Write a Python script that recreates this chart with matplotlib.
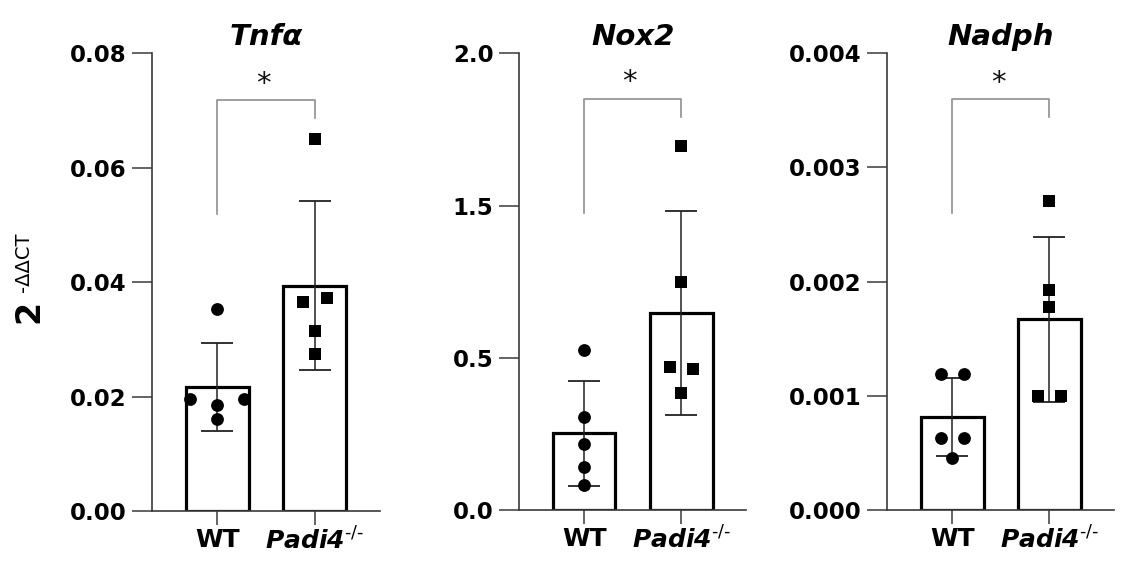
import matplotlib
matplotlib.use("Agg")
import matplotlib.pyplot as plt

plt.rcParams["font.family"] = ["DejaVu Sans"]
plt.rcParams["mathtext.fontset"] = "custom"
plt.rcParams["mathtext.rm"] = "DejaVu Sans:italic:bold"
plt.rcParams["mathtext.sf"] = "DejaVu Sans"
plt.rcParams["mathtext.bf"] = "DejaVu Sans:bold"

groups = ["WT", "$\\mathrm{Padi4}^{\\mathsf{\u2010/\u2010}}$"]
titles = ["Tnf\u03b1", "Nox2", "Nadph"]

# Tnfa
tnfa_wt = [0.0353, 0.0195, 0.0195, 0.0185, 0.0160]
tnfa_ko = [0.0650, 0.0365, 0.0372, 0.0315, 0.0274]
tnfa_mean = [0.0216, 0.0394]
tnfa_sd = [0.0077, 0.0148]
tnfa_ticks = [0.00, 0.02, 0.04, 0.06, 0.08]
tnfa_ticklabels = ["0.00", "0.02", "0.04", "0.06", "0.08"]
tnfa_bracket = [0.0519, 0.0718, 0.0687, 0.0753]

# Nox2 (axis as printed: equally spaced ticks labelled 0.0, 0.5, 1.5, 2.0)
nox2_wt = [0.524, 0.306, 0.217, 0.142, 0.082]
nox2_ko = [1.196, 0.748, 0.469, 0.462, 0.383]
nox2_mean = [0.252, 0.648]
nox2_sd = [0.173, 0.335]
nox2_ticks = [0.0, 0.5, 1.0, 1.5]
nox2_ticklabels = ["0.0", "0.5", "1.5", "2.0"]
nox2_bracket = [0.974, 1.349, 1.291, 1.419]

# Nadph
nadph_wt = [0.00119, 0.00119, 0.000633, 0.000633, 0.000458]
nadph_ko = [0.00271, 0.00193, 0.00178, 0.000998, 0.000998]
nadph_mean = [0.000817, 0.00167]
nadph_sd = [0.000340, 0.000722]
nadph_ticks = [0.000, 0.001, 0.002, 0.003, 0.004]
nadph_ticklabels = ["0.000", "0.001", "0.002", "0.003", "0.004"]
nadph_bracket = [0.002598, 0.003597, 0.003439, 0.00378]

# horizontal spread of the dots (layout only)
tnfa_spread = ([0, -0.275, 0.275, 0, 0], [0, -0.12, 0.12, 0, 0])
nox2_spread = ([0, 0, 0, 0, 0], [0, 0, -0.12, 0.12, 0])
nadph_spread = ([-0.12, 0.12, -0.12, 0.12, 0], [0, 0, 0, -0.12, 0.12])

AXIS_COLOR = "#3a3a3a"


def draw_panel(ax, title, wt, ko, mean, sd, ticks, ticklabels, bracket, spread, ymax):
    xs = [0, 1]
    ax.bar(xs, mean, width=0.645, color="white", edgecolor="black", linewidth=2.3, zorder=1)
    ax.errorbar(xs, mean, yerr=sd, fmt="none", ecolor="#222222", elinewidth=1.1,
                capsize=11.5, capthick=1.3, zorder=2)

    ax.scatter([0 + d for d in spread[0]], wt, marker="o", s=85, color="black", zorder=3, linewidths=0)
    ax.scatter([1 + d for d in spread[1]], ko, marker="s", s=64, color="black", zorder=3, linewidths=0)

    left_y, top_y, right_y, star_y = bracket
    ax.plot([0, 0, 1, 1], [left_y, top_y, top_y, right_y], color="#8f8f8f", lw=1.2,
            zorder=2, clip_on=False)
    # the asterisk glyph sits high in its box, so nudge it down a little
    ax.annotate("*", (0.47, star_y), xytext=(0, -3), textcoords="offset points",
                ha="center", va="center", fontsize=21, color="#111111")

    ax.set_xlim(-0.67, 1.667)
    ax.set_ylim(0, ymax)
    ax.set_xticks(xs)
    ax.set_xticklabels(groups, fontsize=18, fontweight="bold")
    ax.set_yticks(ticks)
    ax.set_yticklabels(ticklabels, fontsize=16.5, fontweight="bold")

    ax.spines["top"].set_visible(False)
    ax.spines["right"].set_visible(False)
    for side in ["left", "bottom"]:
        ax.spines[side].set_color(AXIS_COLOR)
        ax.spines[side].set_linewidth(1.2)
    ax.tick_params(axis="y", length=14.4, width=1.1, pad=4, color=AXIS_COLOR)
    ax.tick_params(axis="x", length=10, width=1.1, pad=2, color=AXIS_COLOR)

    ax.set_title(title, fontsize=21, fontweight="bold", fontstyle="italic", pad=6)


def main():
    fig = plt.figure(figsize=(11.24, 5.63), dpi=100)
    ax1 = fig.add_axes([0.135, 0.0924, 0.203, 0.8129])
    ax2 = fig.add_axes([0.4618, 0.0941, 0.202, 0.8112])
    ax3 = fig.add_axes([0.7894, 0.0941, 0.2019, 0.8112])

    draw_panel(ax1, titles[0], tnfa_wt, tnfa_ko, tnfa_mean, tnfa_sd,
               tnfa_ticks, tnfa_ticklabels, tnfa_bracket, tnfa_spread, 0.08)
    draw_panel(ax2, titles[1], nox2_wt, nox2_ko, nox2_mean, nox2_sd,
               nox2_ticks, nox2_ticklabels, nox2_bracket, nox2_spread, 1.5)
    draw_panel(ax3, titles[2], nadph_wt, nadph_ko, nadph_mean, nadph_sd,
               nadph_ticks, nadph_ticklabels, nadph_bracket, nadph_spread, 0.004)

    # y label: big bold "2" with a smaller, regular superscript
    fig.text(29 / 1124, 1 - 311 / 563, "2", rotation=90, ha="center", va="center",
             fontsize=24, fontweight="bold")
    fig.text(23 / 1124, 1 - 262 / 563, "-\u0394\u0394CT", rotation=90, ha="center",
             va="center", fontsize=14)

    fig.savefig("out.png", dpi=100)


if __name__ == "__main__":
    main()
